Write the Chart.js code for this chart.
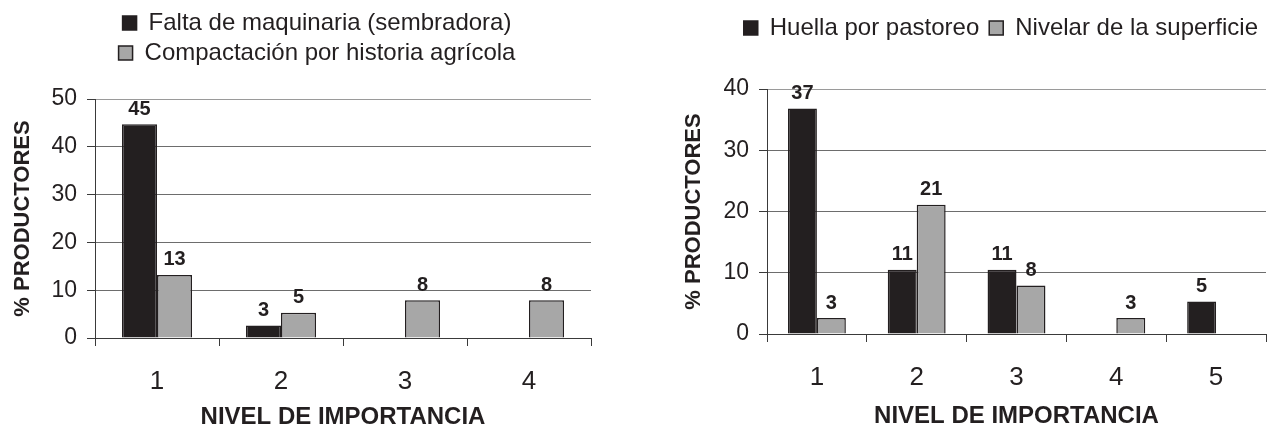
<!DOCTYPE html>
<html><head><meta charset="utf-8">
<script src="https://cdn.jsdelivr.net/npm/chart.js@4.4.1/dist/chart.umd.min.js"></script>
<style>
html,body{margin:0;padding:0;background:#fff;}
#wrap{display:flex;width:1268px;height:429px;}
canvas{display:block;}
</style></head><body>
<div id="wrap"><canvas id="c1" width="634" height="429"></canvas><canvas id="c2" width="634" height="429"></canvas></div>
<script>
// ---- data ----
const leftCategories = ['1', '2', '3', '4'];
const leftFalta = [44.7, 2.6, 0, 0];
const leftCompactacion = [13.2, 5.3, 7.9, 7.9];
const leftSeriesNames = ['Falta de maquinaria (sembradora)', 'Compactación por historia agrícola'];
const leftYMax = 50;

const rightCategories = ['1', '2', '3', '4', '5'];
const rightHuella = [36.8, 10.5, 10.5, 0, 5.3];
const rightNivelar = [2.6, 21.1, 7.9, 2.6, 0];
const rightSeriesNames = ['Huella por pastoreo', 'Nivelar de la superficie'];
const rightYMax = 40;

const yStep = 10;
const xTitle = 'NIVEL DE IMPORTANCIA';
const yTitle = '% PRODUCTORES';

// ---- style ----
const FONT = "'Liberation Sans', Arial, Helvetica, sans-serif";
const TEXT = '#231f20';
const BLACK = '#231f20';
const GRAY = '#a7a7a7';
Chart.defaults.font.family = FONT;
Chart.defaults.color = TEXT;

const legendSpace = h => ({
  id: 'legendSpace',
  beforeLayout(chart) {
    const lg = chart.legend;
    if (lg && !lg._wrappedFit) {
      const orig = lg.fit;
      lg.fit = function () { orig.call(this); this.height = h; };
      lg._wrappedFit = true;
    }
  }
});

const valueLabels = {
  id: 'valueLabels',
  afterDatasetsDraw(chart) {
    const ctx = chart.ctx;
    ctx.save();
    ctx.font = 'bold 20px ' + FONT;
    ctx.fillStyle = TEXT;
    ctx.textAlign = 'center';
    ctx.textBaseline = 'middle';
    chart.data.datasets.forEach((ds, i) => {
      const meta = chart.getDatasetMeta(i);
      meta.data.forEach((el, j) => {
        const v = ds.data[j];
        if (v > 0) ctx.fillText(String(Math.round(v)), el.x, el.y - 15);
      });
    });
    ctx.restore();
  }
};

function build(id, cats, names, s1, s2, ymax, lay) {
  return new Chart(document.getElementById(id), {
    type: 'bar',
    data: {
      labels: cats,
      datasets: [
        { label: names[0], data: s1, backgroundColor: BLACK, borderColor: BLACK, borderWidth: 1.5,
          categoryPercentage: lay.cat, barPercentage: 1 },
        { label: names[1], data: s2, backgroundColor: GRAY, borderColor: BLACK, borderWidth: 1.5,
          categoryPercentage: lay.cat, barPercentage: 1 }
      ]
    },
    options: {
      responsive: false, animation: false, devicePixelRatio: 1,
      layout: { padding: { top: lay.top, left: 0, right: 0, bottom: 0 } },
      plugins: {
        legend: { position: 'top', align: lay.align,
          labels: { font: { size: 24 }, boxWidth: 14, boxHeight: 14, padding: lay.legPad, color: TEXT } },
        tooltip: { enabled: false }
      },
      scales: {
        x: {
          grid: { offset: true, drawTicks: true, tickLength: 8, tickColor: '#3a3a3a', lineWidth: 1,
            color: c => c.index === cats.length ? '#9a9a9a' : 'rgba(0,0,0,0)' },
          border: { color: '#3a3a3a', width: 1 },
          ticks: { font: { size: 26 }, padding: 20, color: TEXT },
          title: { display: true, text: xTitle, color: TEXT,
            font: { size: 24, weight: 'bold', lineHeight: 1 }, padding: { top: 0, bottom: lay.xtpb } },
          afterFit: s => { s.height = lay.xh; }
        },
        y: {
          min: 0, max: ymax,
          ticks: { stepSize: yStep, font: { size: 23 }, padding: 10, color: TEXT },
          grid: { tickLength: 8, tickColor: '#3a3a3a',
            color: c => (c.tick && c.tick.value === ymax) ? '#9a9a9a' : '#6d6d6d' },
          border: { color: '#3a3a3a', width: 1 },
          title: { display: true, text: yTitle, color: TEXT,
            font: { size: 22, weight: 'bold' }, padding: { top: lay.ytp, bottom: 0 } },
          afterFit: s => { s.width = lay.yw; }
        },
        pad: {
          type: 'linear', axis: 'y', position: 'right', display: true,
          grid: { display: false }, ticks: { display: false }, border: { display: false },
          afterFit: s => { s.width = lay.rw; }
        }
      }
    },
    plugins: [legendSpace(lay.legH), valueLabels]
  });
}

build('c1', leftCategories, leftSeriesNames, leftFalta, leftCompactacion, leftYMax,
  { top: 5, legPad: 6, align: 'center', legH: 94, cat: 0.565, xh: 91, xtpb: 0, yw: 95, ytp: 10, rw: 43 });
build('c2', rightCategories, rightSeriesNames, rightHuella, rightNivelar, rightYMax,
  { top: 6, legPad: 10, align: 'end', legH: 83, cat: 0.58, xh: 95, xtpb: 1, yw: 133, ytp: 47, rw: 2 });
</script>
</body></html>
